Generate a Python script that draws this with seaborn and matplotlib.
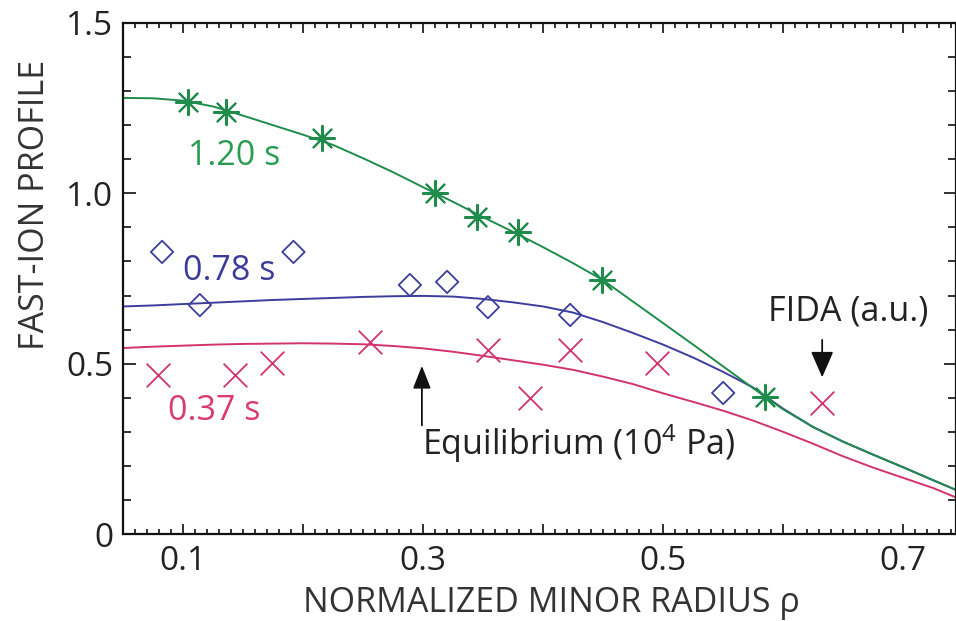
import matplotlib
matplotlib.use("Agg")
import matplotlib.pyplot as plt
from matplotlib.ticker import MultipleLocator, FixedLocator, FixedFormatter
import pandas as pd
import seaborn as sns

# Equilibrium (model) fast-ion pressure profiles, 10^4 Pa
rho_fit = [0.050, 0.075, 0.100, 0.125, 0.150, 0.175, 0.200, 0.225, 0.250, 0.275,
           0.300, 0.325, 0.350, 0.375, 0.400, 0.425, 0.450, 0.475, 0.500, 0.525,
           0.550, 0.575, 0.600, 0.625, 0.650, 0.675, 0.700, 0.725, 0.745]
eq_120 = [1.280, 1.279, 1.272, 1.255, 1.228, 1.200, 1.172, 1.142, 1.103, 1.062,
          1.018, 0.975, 0.930, 0.887, 0.842, 0.795, 0.745, 0.682, 0.619, 0.556,
          0.492, 0.428, 0.366, 0.314, 0.271, 0.233, 0.196, 0.158, 0.128]
eq_078 = [0.668, 0.671, 0.675, 0.679, 0.683, 0.687, 0.690, 0.693, 0.696, 0.698,
          0.699, 0.697, 0.690, 0.680, 0.668, 0.650, 0.622, 0.590, 0.556, 0.518,
          0.476, 0.430, 0.368, 0.314, 0.271, 0.233, 0.196, 0.158, 0.128]
eq_037 = [0.546, 0.550, 0.553, 0.556, 0.558, 0.559, 0.560, 0.559, 0.557, 0.552,
          0.545, 0.535, 0.523, 0.510, 0.497, 0.482, 0.462, 0.440, 0.413, 0.388,
          0.362, 0.333, 0.300, 0.265, 0.228, 0.195, 0.165, 0.135, 0.106]

# FIDA measurements (a.u.)
fida_rho_120 = [0.104, 0.136, 0.216, 0.310, 0.345, 0.379, 0.449, 0.585]
fida_120 = [1.268, 1.239, 1.162, 1.000, 0.930, 0.886, 0.746, 0.402]
fida_rho_078 = [0.0825, 0.114, 0.192, 0.289, 0.320, 0.354, 0.4225, 0.550]
fida_078 = [0.828, 0.672, 0.828, 0.731, 0.740, 0.666, 0.643, 0.414]
fida_rho_037 = [0.079, 0.143, 0.174, 0.256, 0.354, 0.389, 0.4225, 0.495, 0.6325]
fida_037 = [0.467, 0.467, 0.502, 0.564, 0.540, 0.399, 0.540, 0.502, 0.385]

x_major = [0.0, 0.1, 0.2, 0.3, 0.4, 0.5, 0.6, 0.7]
x_major_labels = ["", "0.1", "", "0.3", "", "0.5", "", "0.7"]
y_tick_values = [0.0, 0.5, 1.0, 1.5]
y_tick_labels = ["0", "0.5", "1.0", "1.5"]

GREEN = "#1f8c4c"
BLUE = "#3d3d9e"
RED = "#d2336c"
GREEN_TXT = "#2a9c50"
BLUE_TXT = "#3b3b9a"
RED_TXT = "#db3a6e"
INK = "#222222"

FS_TICK = 24
FS_TEXT = 24.5

sns.set_theme(style="ticks")
plt.rcParams["font.family"] = ["Open Sans", "DejaVu Sans"]
plt.rcParams["mathtext.fontset"] = "custom"
plt.rcParams["mathtext.rm"] = "Open Sans"

fig = plt.figure(figsize=(9.56, 6.21), dpi=100)
ax = fig.add_axes([0.1287, 0.140, 0.8713, 0.823])

fits = pd.DataFrame({"rho": rho_fit, "p120": eq_120, "p078": eq_078, "p037": eq_037})
sns.lineplot(data=fits, x="rho", y="p037", ax=ax, color=RED, lw=1.4)
sns.lineplot(data=fits, x="rho", y="p078", ax=ax, color=BLUE, lw=1.4)
sns.lineplot(data=fits, x="rho", y="p120", ax=ax, color=GREEN, lw=1.4)

sns.scatterplot(x=fida_rho_078, y=fida_078, ax=ax, marker="D", s=130,
                facecolors="none", edgecolor=BLUE, linewidth=1.3, zorder=4)
sns.scatterplot(x=fida_rho_037, y=fida_037, ax=ax, marker="x", s=290,
                color=RED, linewidth=1.3, zorder=4)
sns.scatterplot(x=fida_rho_120, y=fida_120, ax=ax, marker=(8, 2, 0), s=330,
                color=GREEN, edgecolor=GREEN, linewidth=1.5, zorder=5)

ax.set_xlim(0.05, 0.744)
ax.set_ylim(0.0, 1.5)

# ticks on all four sides, pointing inward
ax.xaxis.set_major_locator(FixedLocator(x_major))
ax.xaxis.set_major_formatter(FixedFormatter(x_major_labels))
ax.xaxis.set_minor_locator(MultipleLocator(0.01))
ax.yaxis.set_major_locator(FixedLocator(y_tick_values))
ax.yaxis.set_major_formatter(FixedFormatter(y_tick_labels))
ax.yaxis.set_minor_locator(MultipleLocator(0.1))
ax.tick_params(which="both", direction="in", top=True, right=True,
               labelsize=FS_TICK, colors=INK, width=1.3)
ax.tick_params(axis="x", which="major", length=7, pad=8)
ax.tick_params(axis="x", which="minor", length=3.5)
ax.tick_params(axis="y", which="major", length=9, pad=7)
ax.tick_params(axis="y", which="minor", length=6)
for s in ax.spines.values():
    s.set_linewidth(1.6)
    s.set_color("#111111")

ax.set_xlabel("NORMALIZED MINOR RADIUS ρ", fontsize=FS_TEXT, color="#333333")
ax.xaxis.label.set_va("baseline")
ax.xaxis.set_label_coords(0.514, -0.153)
ax.set_ylabel("FAST-ION PROFILE", fontsize=FS_TEXT, color="#333333")
ax.yaxis.label.set_va("center")
ax.yaxis.set_label_coords(-0.1056, 0.644)

# series labels
ax.text(0.104, 1.083, "1.20 s", color=GREEN_TXT, fontsize=FS_TEXT, ha="left", va="baseline")
ax.text(0.100, 0.745, "0.78 s", color=BLUE_TXT, fontsize=FS_TEXT, ha="left", va="baseline")
ax.text(0.0875, 0.335, "0.37 s", color=RED_TXT, fontsize=FS_TEXT, ha="left", va="baseline")

# annotations
ax.text(0.299, 0.232, r"Equilibrium (10$^{4}$ Pa)", color=INK, fontsize=FS_TEXT,
        ha="left", va="baseline")
ax.annotate("", xy=(0.299, 0.502), xytext=(0.299, 0.311),
            arrowprops=dict(arrowstyle="-|>,head_length=1.4,head_width=0.55",
                            mutation_scale=10, color="#111111", lw=1.3))
ax.text(0.5875, 0.628, "FIDA (a.u.)", color=INK, fontsize=FS_TEXT,
        ha="left", va="baseline")
ax.annotate("", xy=(0.6325, 0.452), xytext=(0.6325, 0.578),
            arrowprops=dict(arrowstyle="-|>,head_length=1.6,head_width=0.7",
                            mutation_scale=10, color="#111111", lw=1.3))

fig.savefig("out.png", dpi=100)
